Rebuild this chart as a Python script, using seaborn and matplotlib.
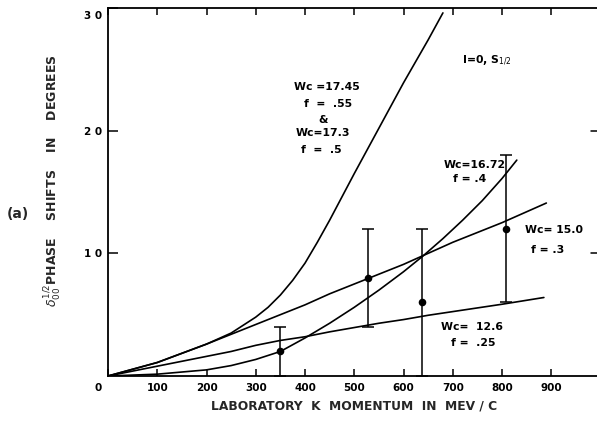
import numpy as np
import pandas as pd
import matplotlib
matplotlib.use("Agg")
import matplotlib.pyplot as plt
import matplotlib.transforms as mtransforms
import seaborn as sns

# Calculated phase shifts (degrees) versus laboratory K momentum (MeV/c)
k_steep = [0, 100, 200, 250, 300, 325, 350, 375, 400, 425, 450, 475, 500,
           550, 600, 650, 680]
d_steep = [0, 1.1, 2.6, 3.5, 4.8, 5.6, 6.6, 7.8, 9.2, 10.9, 12.7, 14.6, 16.5,
           20.2, 23.9, 27.4, 29.6]

k_1672 = [0, 100, 200, 250, 300, 350, 400, 450, 500, 550, 600, 640, 680, 720,
          760, 800, 830]
d_1672 = [0, 0.15, 0.5, 0.85, 1.35, 2.0, 3.1, 4.3, 5.6, 7.0, 8.5, 9.8, 11.2,
          12.7, 14.3, 16.1, 17.6]

k_150 = [0, 100, 200, 250, 300, 350, 400, 450, 500, 550, 600, 650, 700, 750, 800, 890]
d_150 = [0, 1.1, 2.6, 3.4, 4.2, 5.0, 5.8, 6.7, 7.5, 8.3, 9.1, 10.0, 10.9, 11.7, 12.5, 14.1]

k_126 = [0, 100, 200, 250, 300, 350, 400, 450, 500, 550, 600, 650, 700, 750, 800, 885]
d_126 = [0, 0.8, 1.6, 2.0, 2.5, 2.9, 3.2, 3.6, 3.95, 4.3, 4.6, 4.95, 5.25, 5.55, 5.85, 6.4]

# Experimental points with errors
k_meas = [349, 528, 638, 809]
d_meas = [2, 8, 6, 12]
d_err = [2, 4, 6, 6]

x_ticks = [0, 100, 200, 300, 400, 500, 600, 700, 800, 900]
x_tick_labels = ["0", "100", "200", "300", "400", "500", "600", "700", "800", "900"]
y_ticks = [10, 20, 30]
y_tick_labels = ["1 0", "2 0", "3 0"]

curves = pd.concat([
    pd.DataFrame({"k": k_steep, "delta": d_steep, "curve": "Wc=17.45"}),
    pd.DataFrame({"k": k_1672, "delta": d_1672, "curve": "Wc=16.72"}),
    pd.DataFrame({"k": k_150, "delta": d_150, "curve": "Wc=15.0"}),
    pd.DataFrame({"k": k_126, "delta": d_126, "curve": "Wc=12.6"}),
], ignore_index=True)
points = pd.DataFrame({"k": k_meas, "delta": d_meas, "err": d_err})

sns.set_style("white")
plt.rcParams["font.family"] = ["DejaVu Sans"]

fig = plt.figure(figsize=(5.97, 4.23), dpi=100)
ax = fig.add_axes([0.1809, 0.1111, 0.825, 0.870])

sns.lineplot(data=curves, x="k", y="delta", units="curve", estimator=None,
             sort=False, color="black", lw=1.2, ax=ax, legend=False)
ax.errorbar(points["k"], points["delta"], yerr=points["err"], fmt="none",
            ecolor="black", elinewidth=1.1, capsize=4.2, capthick=1.1,
            clip_on=False, zorder=3)
sns.scatterplot(data=points, x="k", y="delta", color="black", s=30,
                edgecolor="black", linewidth=0, ax=ax, zorder=4)

ax.set_xlim(0, 1000)
ax.set_ylim(0, 30)

for side in ["left", "bottom", "top", "right"]:
    ax.spines[side].set_visible(True)
    ax.spines[side].set_color("black")
    ax.spines[side].set_linewidth(1.3)

ax.set_xticks(x_ticks)
ax.set_xticklabels(x_tick_labels)
ax.set_yticks(y_ticks)
ax.set_yticklabels(y_tick_labels)
ax.tick_params(axis="x", which="major", direction="in", length=5, width=1.1,
               top=True, bottom=True, labelsize=7.5, pad=5, colors="black")
ax.tick_params(axis="y", which="major", direction="in", length=7, width=1.1,
               left=True, right=False, labelsize=7.5, pad=4.5, colors="black")
for lab in ax.get_xticklabels() + ax.get_yticklabels():
    lab.set_fontweight("bold")

# shared origin label sits a little to the left, the top label a little lower
shift_left = mtransforms.ScaledTranslation(-7 / 72, 0, fig.dpi_scale_trans)
ax.get_xticklabels()[0].set_transform(ax.get_xticklabels()[0].get_transform() + shift_left)
shift_down = mtransforms.ScaledTranslation(0, -5 / 72, fig.dpi_scale_trans)
ax.get_yticklabels()[-1].set_transform(ax.get_yticklabels()[-1].get_transform() + shift_down)

# inward ticks on the right-hand frame at 10 and 20
for yv in [10, 20]:
    ax.plot([980, 1000], [yv, yv], color="black", lw=1.1, clip_on=False)

ax.set_xlabel("LABORATORY  K  MOMENTUM  IN  MEV / C", fontsize=8.8,
              fontweight="bold", labelpad=5)
ax.set_ylabel(r"$\delta_{00}^{1/2}$PHASE    SHIFTS    IN    DEGREES",
              fontsize=9, fontweight="bold")
ax.yaxis.set_label_coords(-0.092, 0.53)
fig.text(0.03, 0.495, "(a)", fontsize=10, fontweight="bold",
         ha="center", va="center")

txt = dict(fontsize=7.8, fontweight="bold", ha="center", va="center", color="black")
ax.text(444, 23.6, "Wc =17.45", **txt)
ax.text(447, 22.2, "f  =  .55", **txt)
ax.text(437, 20.9, "&", **txt)
ax.text(437, 19.8, "Wc=17.3", **txt)
ax.text(433, 18.4, "f  =  .5", **txt)
ax.text(770, 25.7, r"I=0, S$_{1/2}$", **txt)
ax.text(744, 17.2, "Wc=16.72", **txt)
ax.text(734, 16.1, "f = .4", **txt)
ax.text(905, 11.9, "Wc= 15.0", **txt)
ax.text(893, 10.3, "f = .3", **txt)
ax.text(740, 4.0, "Wc=  12.6", **txt)
ax.text(742, 2.7, "f =  .25", **txt)

fig.savefig("out.png", dpi=100)
